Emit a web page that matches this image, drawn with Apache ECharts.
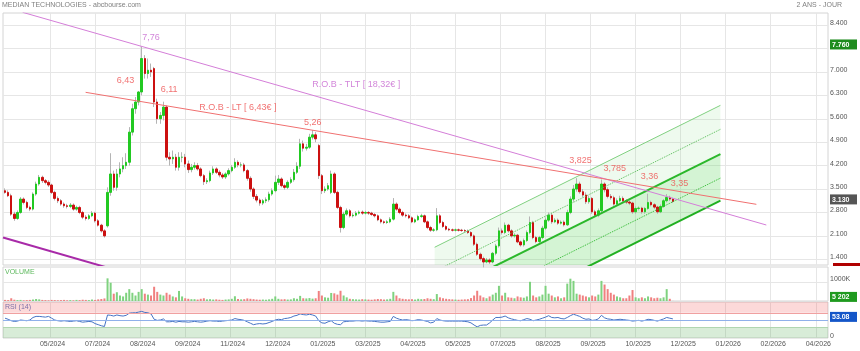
<!DOCTYPE html>
<html><head><meta charset="utf-8">
<script src="https://cdn.jsdelivr.net/npm/echarts@6/dist/echarts.min.js"></script>
<style>html,body{margin:0;padding:0;background:#fff}#c{width:860px;height:351px}</style>
</head><body><div id="c"></div>
<script>
// x-axis tick labels (one per vertical grid line)
const tickLabels = ['05/2024','07/2024','08/2024','09/2024','11/2024','12/2024','01/2025','03/2025','04/2025','05/2025','07/2025','08/2025','09/2025','10/2025','12/2025','01/2026','02/2026','04/2026'];
const priceTicks = [1.4,2.1,2.8,3.5,4.2,4.9,5.6,6.3,7.0,7.7,8.4];

// one candle per 2 sessions
const open = [
3.45,3.40,3.30,2.75,2.62,2.80,3.20,3.10,2.95,2.90,
3.35,3.65,3.85,3.75,3.70,3.62,3.40,3.22,3.15,3.05,
3.00,2.98,3.02,2.90,2.95,2.80,2.66,2.62,2.70,2.78,
2.55,2.42,2.25,2.40,3.40,3.95,3.55,3.95,4.10,4.20,
4.30,5.20,5.90,6.10,6.40,7.40,6.95,7.05,7.10,6.10,
5.60,5.70,5.95,4.45,4.40,4.45,4.15,4.45,4.45,4.25,
4.08,4.15,4.20,4.10,3.90,3.72,3.75,3.98,4.10,4.00,
3.92,3.86,3.95,4.05,4.15,4.30,4.22,4.22,4.05,3.82,
3.50,3.28,3.17,3.08,3.15,3.18,3.35,3.45,3.70,3.80,
3.60,3.55,3.70,3.78,4.00,4.18,4.85,4.72,4.75,5.05,
5.12,4.80,3.90,3.45,3.50,3.40,3.95,3.40,2.95,2.35,
2.75,2.85,2.70,2.72,2.78,2.81,2.78,2.80,2.78,2.74,
2.70,2.58,2.52,2.50,2.52,2.60,3.05,2.90,2.80,2.72,
2.70,2.64,2.52,2.58,2.68,2.70,2.52,2.35,2.27,2.28,
2.70,2.50,2.38,2.30,2.28,2.27,2.28,2.27,2.26,2.25,
2.20,2.10,1.85,1.55,1.42,1.32,1.38,1.32,1.58,1.80,
2.25,2.20,2.42,2.25,2.10,2.12,1.92,1.83,1.96,2.20,
2.50,2.05,1.93,2.05,2.33,2.57,2.72,2.52,2.57,2.48,
2.51,2.43,2.80,3.20,3.50,3.65,3.42,3.32,3.12,3.22,
2.82,2.72,2.85,3.65,3.48,3.28,3.24,3.05,3.15,3.22,
3.15,3.11,3.08,2.82,2.92,2.93,2.82,2.92,3.10,3.03,
2.96,2.82,2.98,3.15,3.25,3.20];
const close = [
3.40,3.30,2.75,2.62,2.80,3.20,3.10,2.95,2.90,3.35,
3.65,3.85,3.75,3.70,3.62,3.40,3.22,3.15,3.05,3.00,
2.98,3.02,2.90,2.95,2.80,2.66,2.62,2.70,2.78,2.55,
2.42,2.25,2.10,3.40,3.95,3.55,3.95,4.10,4.20,4.30,
5.20,5.90,6.10,6.40,7.40,6.95,7.05,7.00,6.10,5.60,
5.70,5.95,4.45,4.40,4.45,4.15,4.45,4.45,4.25,4.08,
4.15,4.20,4.10,3.90,3.72,3.75,3.98,4.10,4.00,3.92,
3.86,3.95,4.05,4.15,4.30,4.22,4.22,4.05,3.82,3.50,
3.28,3.17,3.08,3.15,3.18,3.35,3.45,3.70,3.80,3.60,
3.55,3.70,3.78,4.00,4.18,4.85,4.72,4.75,5.05,5.12,
5.00,3.90,3.45,3.50,3.60,3.95,3.40,2.95,2.35,2.75,
2.85,2.70,2.72,2.78,2.81,2.78,2.80,2.78,2.74,2.70,
2.58,2.52,2.50,2.52,2.60,3.05,2.90,2.80,2.72,2.70,
2.64,2.52,2.58,2.68,2.70,2.52,2.35,2.27,2.28,2.70,
2.50,2.38,2.30,2.28,2.27,2.28,2.27,2.26,2.25,2.20,
2.10,1.85,1.55,1.42,1.32,1.38,1.32,1.58,1.80,2.25,
2.20,2.42,2.25,2.10,2.12,1.92,1.83,1.96,2.20,2.50,
2.05,1.93,2.05,2.33,2.57,2.72,2.52,2.57,2.48,2.51,
2.43,2.80,3.20,3.50,3.65,3.42,3.32,3.12,3.22,2.82,
2.72,2.85,3.65,3.48,3.28,3.24,3.05,3.15,3.22,3.15,
3.11,3.08,2.82,2.92,2.93,2.82,2.92,3.10,3.03,2.96,
2.82,2.98,3.15,3.25,3.20,3.13];
const high = [
3.52,3.46,3.36,2.82,2.86,3.26,3.25,3.15,3.00,3.40,
3.72,3.92,3.90,3.80,3.76,3.66,3.45,3.28,3.20,3.10,
3.06,3.08,3.07,3.00,3.00,2.85,2.72,2.75,2.84,2.82,
2.60,2.46,2.30,3.55,4.57,4.05,4.10,4.30,4.45,4.57,
5.35,6.05,6.25,6.43,7.76,7.50,7.40,7.25,7.15,6.20,
5.80,6.11,6.00,4.60,4.65,4.55,4.60,4.60,4.55,4.35,
4.25,4.30,4.28,4.15,3.95,3.82,4.05,4.18,4.15,4.06,
3.98,4.00,4.12,4.22,4.42,4.36,4.30,4.28,4.10,3.88,
3.55,3.35,3.22,3.20,3.25,3.42,3.52,3.90,3.92,3.85,
3.66,3.76,3.85,4.10,4.30,5.00,4.95,4.85,5.15,5.26,
5.20,4.85,3.95,3.58,3.68,4.05,4.00,3.45,3.00,2.82,
2.92,2.90,2.78,2.84,2.86,2.86,2.85,2.84,2.82,2.78,
2.74,2.62,2.56,2.57,2.66,3.23,3.10,2.95,2.85,2.77,
2.75,2.68,2.62,2.73,2.76,2.74,2.56,2.40,2.33,2.93,
2.75,2.55,2.42,2.34,2.32,2.32,2.32,2.31,2.30,2.29,
2.24,2.14,1.90,1.60,1.48,1.44,1.43,1.62,1.86,2.35,
2.32,2.50,2.46,2.30,2.18,2.16,1.96,2.02,2.26,2.68,
2.55,2.10,2.10,2.40,2.65,2.80,2.76,2.63,2.62,2.56,
2.56,2.88,3.28,3.62,3.825,3.72,3.50,3.40,3.30,3.26,
2.88,2.92,3.785,3.70,3.55,3.35,3.30,3.22,3.30,3.28,
3.20,3.16,3.12,2.98,2.98,2.97,2.96,3.36,3.15,3.08,
3.00,3.04,3.20,3.35,3.30,3.24];
const low = [
3.36,3.26,2.70,2.55,2.58,2.76,3.04,2.90,2.84,2.86,
3.30,3.60,3.68,3.64,3.56,3.35,3.16,3.08,3.00,2.94,
2.92,2.93,2.85,2.85,2.75,2.60,2.56,2.58,2.66,2.50,
2.38,2.20,2.05,2.35,3.30,3.45,3.45,3.85,4.00,4.10,
4.20,5.10,5.75,6.00,6.30,6.80,6.80,6.85,5.95,5.45,
5.45,5.55,4.35,4.20,4.25,4.05,4.05,4.30,4.15,3.98,
4.00,4.08,4.05,3.85,3.62,3.65,3.70,3.92,3.95,3.85,
3.80,3.80,3.90,4.00,4.10,4.15,4.15,4.00,3.75,3.42,
3.20,3.10,3.00,3.02,3.08,3.12,3.30,3.40,3.62,3.55,
3.48,3.50,3.65,3.72,3.95,4.10,4.62,4.65,4.70,4.98,
4.90,3.80,3.35,3.38,3.45,3.35,3.35,2.90,2.20,2.30,
2.70,2.65,2.65,2.68,2.74,2.73,2.74,2.73,2.70,2.65,
2.54,2.47,2.45,2.46,2.48,2.56,2.85,2.75,2.67,2.65,
2.60,2.48,2.48,2.55,2.64,2.48,2.30,2.22,2.22,2.24,
2.45,2.34,2.26,2.24,2.23,2.23,2.23,2.22,2.21,2.16,
2.05,1.80,1.50,1.36,1.16,1.28,1.26,1.28,1.52,1.75,
2.14,2.15,2.20,2.05,2.05,1.88,1.78,1.78,1.92,2.15,
2.00,1.88,1.88,2.00,2.28,2.52,2.46,2.48,2.43,2.44,
2.38,2.40,2.75,3.12,3.42,3.36,3.25,3.05,3.06,2.76,
2.66,2.66,2.80,3.40,3.22,3.18,3.00,3.00,3.10,3.08,
3.05,3.02,2.76,2.76,2.86,2.76,2.76,2.88,2.98,2.90,
2.76,2.78,2.94,3.10,3.14,3.08];
// volume in thousands of shares
const volume = [
60,50,150,70,50,60,40,50,60,80,
110,90,60,50,40,60,50,40,50,60,
40,50,40,60,50,70,60,50,80,60,
90,110,140,1240,1000,400,480,300,250,450,
650,450,300,500,650,400,350,300,780,500,
350,300,450,350,250,200,550,250,150,120,
100,100,80,120,150,90,100,80,90,70,
60,80,90,120,260,110,90,100,140,120,
100,80,70,80,70,90,120,250,120,90,
100,80,90,150,120,280,150,140,160,130,
150,550,300,200,180,440,420,350,560,300,
200,120,100,90,80,100,90,80,70,90,
110,100,80,90,120,500,300,150,120,100,
90,100,80,120,100,110,150,120,100,380,
200,150,120,100,90,80,70,80,90,100,
160,300,560,300,200,150,250,350,450,830,
300,450,200,180,150,250,200,180,250,1050,
300,200,250,350,830,400,300,200,250,150,
200,950,1220,1100,400,350,300,250,200,300,
250,350,1100,900,650,450,350,250,200,150,
150,300,600,200,150,200,150,250,200,150,
180,150,200,650,120,5.202];
const rsi = [
55,52,48,46,47,50,49,48,50,57,
60,60,59,58,60,55,50,48,47,48,
47,46,47,48,46,44,45,46,45,40,
37,34,32,64,63,61,64,62,61,63,
69,70,70,72,74,71,70,67,52,49,
50,53,45,45,46,44,46,45,45,44,
45,46,45,44,45,47,48,47,47,46,
47,48,49,50,54,52,51,49,45,41,
37,39,40,39,40,43,46,50,52,51,
54,55,57,61,63,67,65,64,66,64,
61,48,42,41,45,48,41,38,37,45,
46,47,47,48,48,47,48,47,47,46,
45,44,44,45,46,60,55,52,50,51,
50,48,49,51,50,48,46,42,44,54,
50,48,47,47,47,47,47,47,46,45,
42,36,31,35,36,36,42,50,57,57,
58,61,56,53,51,49,48,51,54,52,
48,50,52,55,58,62,57,56,57,54,
53,57,62,66,63,60,55,52,53,49,
50,53,63,56,53,52,50,51,52,51,
50,49,47,48,49,47,49,52,51,49,
47,50,53,57,55,53.08];

// trend lines: [candle index, price]
const tltLine = [[5.66, 8.78], [245.07, 2.425]];
const ltLine = [[25.94, 6.39], [241.87, 3.043]];
const tltParallel = [[-0.65, 2.054], [40, 0.963]];
// rising channel: x range, middle line prices, offsets of the five lines
const channelX = [138.3, 230.3];
const channelMid = [0.305, 4.546];
const channelOffsets = [1.455, 0.738, 0, -0.72, -1.395];
// annotations: [candle index, price, text, kind]
const annotations = [
  [47.0, 8.03, '7,76', 'tlt'],
  [38.75, 6.73, '6,43', 'lt'],
  [52.85, 6.48, '6,11', 'lt'],
  [99.08, 5.48, '5,26', 'lt'],
  [185.25, 4.35, '3,825', 'lt'],
  [196.28, 4.10, '3,785', 'lt'],
  [207.5, 3.87, '3,36', 'lt'],
  [217.1, 3.67, '3,35', 'lt'],
  [113.08, 6.61, 'R.O.B - TLT [ 18,32€ ]', 'tlt'],
  [74.95, 5.94, 'R.O.B - LT [ 6,43€ ]', 'lt']
];

const FONT = 'Liberation Sans, Arial, sans-serif';
const N = close.length;
const X_MIN = -0.654, X_MAX = 264.93, X_STEP = 14.5;
const xTicks = tickLabels.map((_, k) => X_STEP * (k + 1));
const maxHigh = Math.max(...high);
const lastClose = close[N - 1];
const lastVol = volume[N - 1];
const lastRsi = rsi[N - 1];

const candleData = close.map((c, i) => [i, open[i], c, low[i], high[i]]);
const bodyData = close.map((c, i) => [i, open[i], c, Math.min(open[i], c), Math.max(open[i], c)]);

function xAxis(gridIndex, showLabel) {
  return {
    type: 'value', gridIndex, min: X_MIN, max: X_MAX,
    axisLine: { show: false },
    axisTick: { show: false, customValues: xTicks },
    axisLabel: {
      show: showLabel, customValues: xTicks, fontSize: 7, color: '#555', margin: 3,
      fontFamily: FONT, padding: [0, 0, 0, 5],
      formatter: v => tickLabels[Math.round(v / X_STEP) - 1] || ''
    },
    splitLine: { show: true, lineStyle: { color: '#e6e6e6', width: 1 } }
  };
}
const boxRich = (bg) => ({ backgroundColor: bg, color: '#fff', fontWeight: 'bold', fontSize: 7, fontFamily: FONT, padding: [2, 5, 1, 2], width: 20 });
const yLabelBase = {
  fontSize: 7, color: '#555', margin: 2, fontFamily: FONT, padding: [0, 0, 4, 0],
  rich: { g: boxRich('#1e8c1e'), d: boxRich('#555555'), v: boxRich('#1f9a1f'), b: boxRich('#1456c8') }
};
const near = (a, b) => Math.abs(a - b) < 1e-6;
const fmtVol = (k) => String(Math.round(k * 1000)).replace(/\B(?=(\d{3})+(?!\d))/g, ' ');

const chanLine = (off) => [[channelX[0], channelMid[0] + off], [channelX[1], channelMid[1] + off]];
const chanStyles = [
  { color: '#80d080', width: 1, type: 'solid' },
  { color: '#55bb55', width: 1, type: 'dotted' },
  { color: '#2cb82c', width: 2, type: 'solid' },
  { color: '#2cb82c', width: 1, type: 'dotted' },
  { color: '#22b022', width: 2, type: 'solid' }
];
const chanFills = ['rgba(120,220,120,0.13)', 'rgba(100,215,100,0.28)'];
const lastOff = channelOffsets[channelOffsets.length - 1];
const band = (lo, hi) => [channelX[0], channelX[1], channelMid[0] + lo, channelMid[1] + lo, channelMid[0] + hi, channelMid[1] + hi];

const series = [];
// channel fills
series.push({
  type: 'custom', xAxisIndex: 0, yAxisIndex: 0, clip: true, silent: true,
  encode: { x: [0, 1], y: [2, 3, 4, 5] },
  data: [band(0, channelOffsets[0]), band(lastOff, 0)],
  renderItem: (params, api) => {
    const pts = [
      api.coord([api.value(0), api.value(2)]),
      api.coord([api.value(1), api.value(3)]),
      api.coord([api.value(1), api.value(5)]),
      api.coord([api.value(0), api.value(4)])
    ];
    const cs = params.coordSys;
    return {
      type: 'polygon', shape: { points: pts }, style: { fill: chanFills[params.dataIndex] },
      clipPath: { type: 'rect', shape: { x: cs.x, y: cs.y, width: cs.width, height: cs.height } }
    };
  }
});
channelOffsets.forEach((off, k) => {
  series.push({ type: 'line', xAxisIndex: 0, yAxisIndex: 0, data: chanLine(off), symbol: 'none', lineStyle: chanStyles[k], silent: true });
});
// trend lines
series.push({ type: 'line', xAxisIndex: 0, yAxisIndex: 0, data: tltLine, symbol: 'none', lineStyle: { color: '#d47ed8', width: 1 }, silent: true });
series.push({ type: 'line', xAxisIndex: 0, yAxisIndex: 0, data: ltLine, symbol: 'none', lineStyle: { color: '#f07070', width: 1 }, silent: true });
series.push({ type: 'line', xAxisIndex: 0, yAxisIndex: 0, data: tltParallel, symbol: 'none', lineStyle: { color: '#a82aa8', width: 2 }, silent: true });
// wicks
series.push({
  type: 'candlestick', xAxisIndex: 0, yAxisIndex: 0, data: candleData, barWidth: 1,
  encode: { x: 0, y: [1, 2, 3, 4] },
  itemStyle: { color: '#b4b4b4', color0: '#b4b4b4', borderColor: '#b4b4b4', borderColor0: '#b4b4b4', borderWidth: 1 },
  silent: true
});
// bodies
series.push({
  type: 'candlestick', xAxisIndex: 0, yAxisIndex: 0, data: bodyData, barWidth: 2,
  encode: { x: 0, y: [1, 2, 3, 4] },
  itemStyle: { color: '#22c922', color0: '#cc1010', borderColor: '#22c922', borderColor0: '#cc1010', borderWidth: 1 },
  silent: true
});
// annotations
series.push({
  type: 'scatter', xAxisIndex: 0, yAxisIndex: 0, symbolSize: 1, silent: true,
  itemStyle: { color: 'rgba(0,0,0,0)' },
  data: annotations.map(a => ({
    value: [a[0], a[1]],
    label: { show: true, position: 'inside', formatter: a[2], fontSize: 9, fontFamily: FONT, color: a[3] === 'tlt' ? '#c766cf' : '#ee4f4f' }
  }))
});
// volume
series.push({
  type: 'bar', xAxisIndex: 1, yAxisIndex: 1, barWidth: 2, silent: true,
  data: volume.map((v, i) => ({ value: [i, v], itemStyle: { color: close[i] >= open[i] ? '#7fd27f' : '#f08080' } }))
});
// RSI
series.push({
  type: 'line', xAxisIndex: 2, yAxisIndex: 2, data: rsi.map((v, i) => [i, v]), symbol: 'none', silent: true,
  lineStyle: { color: '#4573c4', width: 1 },
  markArea: {
    silent: true, animation: false,
    data: [
      [{ yAxis: 70, itemStyle: { color: 'rgba(240,80,80,0.22)' } }, { yAxis: 100 }],
      [{ yAxis: 0, itemStyle: { color: 'rgba(60,160,60,0.2)' } }, { yAxis: 30 }]
    ]
  },
  markLine: {
    silent: true, symbol: ['none', 'none'], animation: false,
    label: { show: false },
    data: [
      { yAxis: 70, lineStyle: { color: '#f0a0a0', type: 'solid', width: 1 } },
      { yAxis: 30, lineStyle: { color: '#b0d6b0', type: 'solid', width: 1 } },
      { yAxis: 50, lineStyle: { color: '#8fb0ea', type: 'solid', width: 1 } }
    ]
  }
});

const option = {
  animation: false,
  textStyle: { fontFamily: FONT },
  grid: [
    { left: 3, right: 28, top: 13, height: 252, show: true, borderColor: '#d4d4d4', borderWidth: 1 },
    { left: 3, right: 28, top: 267, height: 34, show: true, borderColor: '#d4d4d4', borderWidth: 1 },
    { left: 3, right: 28, top: 302, height: 36, show: true, borderColor: '#d4d4d4', borderWidth: 1 }
  ],
  xAxis: [xAxis(0, false), xAxis(1, false), xAxis(2, true)],
  yAxis: [
    {
      type: 'value', gridIndex: 0, position: 'right', min: 1.23, max: 8.76,
      axisLine: { show: false }, axisTick: { show: false, customValues: priceTicks },
      axisLabel: Object.assign({
        customValues: priceTicks.filter(v => !near(v, 7.7)).concat([maxHigh, lastClose]),
        formatter: v => near(v, maxHigh) ? '{g|' + v.toFixed(3) + '}' : near(v, lastClose) ? '{d|' + v.toFixed(3) + '}' : v.toFixed(3)
      }, yLabelBase),
      splitLine: { show: true, lineStyle: { color: '#e6e6e6' } }
    },
    {
      type: 'value', gridIndex: 1, position: 'right', min: 0, max: 1860,
      axisLine: { show: false }, axisTick: { show: false, customValues: [1000] },
      axisLabel: Object.assign({
        customValues: [1000, lastVol],
        formatter: v => near(v, lastVol) ? '{v|' + fmtVol(v) + '}' : v + 'K'
      }, yLabelBase, { padding: [0, 0, 8, 0] }),
      splitLine: { show: true, lineStyle: { color: '#e6e6e6' } }
    },
    {
      type: 'value', gridIndex: 2, position: 'right', min: 0, max: 100,
      axisLine: { show: false }, axisTick: { show: false, customValues: [0] },
      axisLabel: Object.assign({
        customValues: [0, lastRsi],
        formatter: v => near(v, lastRsi) ? '{b|' + v.toFixed(2) + '}' : String(v)
      }, yLabelBase),
      splitLine: { show: false }
    }
  ],
  graphic: [
    { type: 'text', left: 2, top: 1.5, silent: true, style: { text: 'MEDIAN TECHNOLOGIES - abcbourse.com', fill: '#808080', font: '7px ' + FONT } },
    { type: 'text', right: 18, top: 1.5, silent: true, style: { text: '2 ANS - JOUR', fill: '#808080', font: '7px ' + FONT } },
    { type: 'text', left: 5, top: 268.5, silent: true, style: { text: 'VOLUME', fill: '#5cb85c', font: '7px ' + FONT } },
    { type: 'text', left: 5, top: 304, silent: true, style: { text: 'RSI (14)', fill: '#5a78c0', font: '7px ' + FONT } },
    { type: 'rect', silent: true, shape: { x: 833, y: 263, width: 27, height: 3 }, style: { fill: '#b00000' } }
  ],
  series
};
const chart = echarts.init(document.getElementById('c'), null, { renderer: 'canvas' });
chart.setOption(option);
</script>
</body></html>
